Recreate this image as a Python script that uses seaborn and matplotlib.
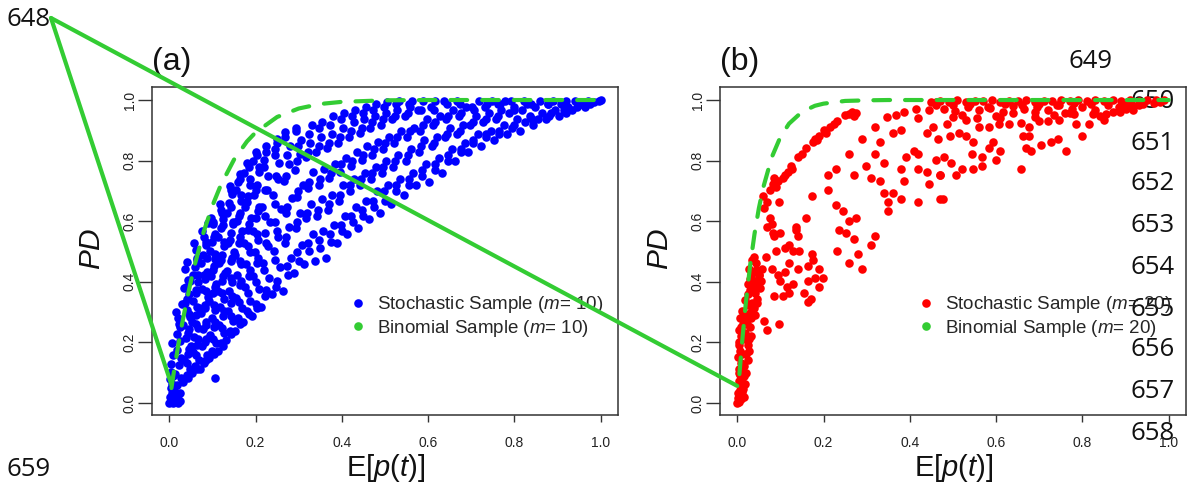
import matplotlib
matplotlib.use("Agg")
import matplotlib.pyplot as plt
import seaborn as sns
import pandas as pd
from matplotlib.lines import Line2D

# ---------------- data ----------------
blue_x = [
 0.000,0.004,0.008,0.012,0.002,0.006,0.010,0.003,0.007,0.011,0.001,0.005,0.009,0.004,0.008,0.006,0.020,0.025,0.015,
 0.015,0.020,0.025,0.018,0.028,0.014,0.022,0.027,0.017,0.024,0.019,0.026,0.021,0.016,0.029,0.023,
 0.032,0.040,0.047,0.035,0.043,0.050,0.038,0.045,0.033,0.048,0.041,0.036,0.046,0.039,0.044,0.037,0.034,0.042,
 0.052,0.060,0.068,0.055,0.064,0.058,0.066,0.053,0.061,0.069,0.056,0.063,0.067,0.054,0.059,0.065,0.062,0.057,
 0.072,0.080,0.088,0.075,0.084,0.078,0.086,0.073,0.082,0.089,0.076,0.083,0.087,0.074,0.079,0.085,0.081,0.077,0.090,
 0.092,0.100,0.108,0.095,0.104,0.098,0.106,0.093,0.102,0.109,0.096,0.103,0.107,0.094,0.099,0.105,0.101,0.097,0.107,
 0.112,0.120,0.128,0.115,0.124,0.118,0.126,0.113,0.122,0.129,0.116,0.123,0.127,0.114,0.119,0.125,0.121,0.117,
 0.132,0.140,0.148,0.135,0.144,0.138,0.146,0.133,0.142,0.149,0.136,0.143,0.147,0.134,0.139,0.145,0.141,
 0.152,0.160,0.168,0.155,0.164,0.158,0.166,0.153,0.162,0.169,0.156,0.163,0.167,0.154,0.159,0.165,
 0.172,0.180,0.188,0.175,0.184,0.178,0.186,0.173,0.182,0.189,0.176,0.183,0.187,0.174,0.181,
 0.192,0.200,0.208,0.195,0.204,0.198,0.206,0.193,0.202,0.209,0.196,0.203,0.207,0.194,0.201,
 0.213,0.225,0.232,0.218,0.228,0.221,0.234,0.216,0.227,0.230,0.219,0.224,
 0.238,0.250,0.257,0.243,0.253,0.246,0.259,0.241,0.252,0.255,0.244,0.249,
 0.263,0.275,0.282,0.268,0.278,0.271,0.284,0.266,0.277,0.280,0.269,
 0.288,0.300,0.307,0.293,0.303,0.296,0.309,0.291,0.302,0.305,0.294,
 0.313,0.325,0.332,0.318,0.328,0.321,0.334,0.316,0.327,0.330,
 0.338,0.350,0.357,0.343,0.353,0.346,0.359,0.341,0.352,0.355,
 0.363,0.375,0.382,0.368,0.378,0.371,0.384,0.366,0.377,0.380,
 0.388,0.400,0.407,0.393,0.403,0.396,0.409,0.391,0.402,0.405,
 0.413,0.425,0.432,0.418,0.428,0.421,0.434,0.416,0.427,0.430,
 0.438,0.450,0.457,0.443,0.453,0.446,0.459,0.441,0.452,0.455,
 0.463,0.475,0.482,0.468,0.478,0.471,0.484,0.466,0.477,0.480,
 0.488,0.500,0.507,0.493,0.503,0.496,0.509,0.491,0.502,0.505,
 0.513,0.525,0.535,0.518,0.530,0.521,0.538,0.516,0.527,0.533,
 0.543,0.555,0.565,0.548,0.560,0.551,0.568,0.546,0.557,0.563,
 0.573,0.585,0.595,0.578,0.590,0.581,0.598,0.576,0.587,
 0.603,0.615,0.625,0.608,0.620,0.611,0.628,0.606,0.617,
 0.633,0.645,0.655,0.638,0.650,0.641,0.658,0.636,
 0.663,0.675,0.685,0.668,0.680,0.671,0.688,0.666,
 0.693,0.705,0.715,0.698,0.710,0.701,0.718,
 0.723,0.735,0.745,0.728,0.740,0.731,0.748,
 0.753,0.765,0.775,0.758,0.770,0.761,0.778,
 0.783,0.795,0.805,0.788,0.800,0.791,
 0.813,0.825,0.835,0.818,0.830,0.821,
 0.843,0.855,0.865,0.848,0.860,
 0.873,0.885,0.895,0.878,0.890,
 0.903,0.915,0.925,0.908,0.920,
 0.933,0.945,0.955,0.940,
 0.963,0.975,0.985,0.995,1.000,0.970,
 # second pass (fill between the first ones)
 0.044,0.041,0.046,0.043,0.045,0.042,0.047,
 0.064,0.062,0.066,0.063,0.065,0.061,0.067,0.064,
 0.084,0.082,0.086,0.083,0.085,0.081,0.087,0.084,
 0.104,0.102,0.106,0.103,0.105,0.101,0.107,0.104,0.102,
 0.124,0.122,0.126,0.123,0.125,0.121,0.127,0.124,0.122,
 0.144,0.142,0.146,0.143,0.145,0.141,0.147,0.144,0.142,
 0.164,0.162,0.166,0.163,0.165,0.161,0.167,0.164,
 0.184,0.182,0.186,0.183,0.185,0.181,0.187,0.184,
 0.204,0.202,0.206,0.203,0.205,0.201,0.207,0.204,
 0.222,0.220,0.224,0.221,0.223,0.219,0.225,
 0.247,0.245,0.249,0.246,0.248,0.244,0.250,
 0.272,0.270,0.274,0.271,0.273,0.269,
 0.297,0.295,0.299,0.296,0.298,0.294,
 0.322,0.320,0.324,0.321,0.323,
 0.347,0.345,0.349,0.346,0.348,
 0.372,0.370,0.374,0.371,0.373,
 0.397,0.395,0.399,0.396,0.398,
 0.422,0.420,0.424,0.421,0.423,
 0.447,0.445,0.449,0.446,0.448,
 0.472,0.470,0.474,0.471,0.473,
 0.497,0.495,0.499,0.496,0.498,
 0.525,0.523,0.527,0.524,0.526,
 0.555,0.553,0.557,0.554,0.556,
 0.585,0.583,0.587,0.584,
 0.615,0.613,0.617,0.614,
 0.645,0.643,0.647,0.644,
 0.675,0.673,0.677,0.674,
 0.705,0.703,0.707,
 0.735,0.733,0.737,
 0.765,0.763,0.767,
 0.800,0.798,
 0.840,0.838,
 0.880,0.878,
 0.920,0.918,
 0.960,
]
blue_y = [
 0.000,0.002,0.000,0.006,0.020,0.032,0.018,0.050,0.062,0.044,0.080,0.101,0.088,0.130,0.158,0.197,0.000,0.006,0.012,
 0.004,0.014,0.031,0.058,0.083,0.097,0.124,0.148,0.176,0.205,0.228,0.252,0.279,0.301,0.327,0.262,
 0.068,0.092,0.112,0.141,0.163,0.187,0.213,0.244,0.257,0.283,0.306,0.331,0.358,0.384,0.405,0.441,0.379,0.466,
 0.098,0.121,0.143,0.168,0.192,0.218,0.246,0.266,0.291,0.313,0.338,0.372,0.398,0.421,0.449,0.478,0.506,0.527,
 0.112,0.133,0.158,0.187,0.212,0.243,0.268,0.296,0.322,0.351,0.377,0.408,0.432,0.462,0.488,0.521,0.548,0.566,0.594,
 0.148,0.171,0.198,0.224,0.252,0.279,0.308,0.338,0.362,0.391,0.418,0.452,0.476,0.503,0.531,0.558,0.589,0.612,0.081,
 0.172,0.198,0.231,0.258,0.287,0.318,0.342,0.371,0.402,0.428,0.461,0.488,0.517,0.548,0.577,0.606,0.638,0.657,
 0.208,0.238,0.272,0.302,0.331,0.368,0.398,0.437,0.468,0.497,0.528,0.561,0.598,0.628,0.661,0.689,0.716,
 0.238,0.281,0.312,0.347,0.388,0.421,0.458,0.487,0.528,0.566,0.602,0.628,0.668,0.702,0.728,0.756,
 0.268,0.302,0.338,0.381,0.418,0.458,0.497,0.528,0.571,0.612,0.648,0.682,0.718,0.758,0.792,
 0.288,0.328,0.377,0.418,0.462,0.497,0.538,0.568,0.611,0.648,0.688,0.718,0.762,0.798,0.828,
 0.318,0.372,0.412,0.461,0.518,0.562,0.598,0.648,0.702,0.748,0.802,0.848,
 0.358,0.402,0.448,0.502,0.548,0.598,0.641,0.688,0.738,0.792,0.838,0.872,
 0.368,0.421,0.478,0.528,0.581,0.628,0.678,0.732,0.788,0.848,0.896,
 0.428,0.468,0.521,0.578,0.628,0.681,0.718,0.768,0.821,0.868,0.908,
 0.458,0.502,0.558,0.612,0.658,0.708,0.762,0.812,0.858,0.918,
 0.468,0.512,0.568,0.618,0.672,0.718,0.772,0.828,0.878,0.928,
 0.478,0.532,0.588,0.638,0.688,0.742,0.788,0.842,0.888,0.948,
 0.528,0.568,0.618,0.668,0.718,0.762,0.808,0.858,0.908,0.958,
 0.558,0.598,0.648,0.698,0.738,0.782,0.828,0.878,0.928,0.968,
 0.578,0.618,0.668,0.718,0.758,0.802,0.848,0.892,0.938,0.978,
 0.608,0.648,0.698,0.738,0.778,0.818,0.862,0.908,0.948,0.988,
 0.628,0.668,0.718,0.758,0.798,0.838,0.878,0.918,0.958,0.992,
 0.658,0.698,0.738,0.778,0.818,0.858,0.898,0.938,0.968,0.998,
 0.688,0.718,0.758,0.798,0.838,0.878,0.908,0.948,0.978,0.998,
 0.718,0.748,0.788,0.828,0.868,0.898,0.938,0.968,0.998,
 0.728,0.768,0.808,0.848,0.878,0.918,0.948,0.978,0.998,
 0.758,0.798,0.838,0.878,0.908,0.938,0.968,0.998,
 0.798,0.828,0.858,0.888,0.918,0.948,0.978,0.998,
 0.828,0.858,0.888,0.918,0.948,0.978,0.998,
 0.848,0.878,0.898,0.928,0.958,0.978,0.998,
 0.868,0.888,0.918,0.938,0.968,0.988,0.998,
 0.888,0.908,0.938,0.958,0.978,0.998,
 0.898,0.928,0.948,0.968,0.988,0.998,
 0.918,0.938,0.958,0.978,0.998,
 0.938,0.958,0.968,0.988,0.998,
 0.948,0.968,0.978,0.988,0.998,
 0.968,0.978,0.988,0.998,
 0.978,0.988,0.995,0.998,1.000,0.998,
 # second pass
 0.082,0.131,0.178,0.231,0.292,0.343,0.402,
 0.112,0.158,0.212,0.262,0.318,0.362,0.421,0.472,
 0.142,0.201,0.258,0.312,0.368,0.421,0.478,0.532,
 0.161,0.212,0.268,0.322,0.381,0.438,0.492,0.548,0.598,
 0.188,0.248,0.302,0.362,0.418,0.472,0.532,0.588,0.628,
 0.228,0.288,0.352,0.412,0.478,0.538,0.592,0.648,0.702,
 0.262,0.332,0.402,0.468,0.548,0.618,0.688,0.738,
 0.292,0.362,0.438,0.518,0.592,0.662,0.738,0.778,
 0.312,0.398,0.478,0.558,0.632,0.702,0.778,0.818,
 0.352,0.438,0.528,0.618,0.702,0.778,0.828,
 0.382,0.472,0.568,0.658,0.748,0.818,0.858,
 0.452,0.548,0.648,0.748,0.818,0.878,
 0.498,0.598,0.698,0.798,0.848,0.898,
 0.528,0.628,0.728,0.828,0.888,
 0.538,0.638,0.738,0.848,0.908,
 0.558,0.658,0.758,0.858,0.918,
 0.588,0.688,0.788,0.878,0.938,
 0.618,0.718,0.798,0.898,0.948,
 0.638,0.738,0.818,0.908,0.958,
 0.668,0.758,0.838,0.928,0.968,
 0.698,0.778,0.858,0.938,0.978,
 0.718,0.798,0.878,0.948,0.988,
 0.738,0.818,0.898,0.958,0.988,
 0.768,0.848,0.918,0.968,
 0.788,0.858,0.928,0.968,
 0.818,0.888,0.948,0.988,
 0.838,0.898,0.958,0.988,
 0.868,0.928,0.968,
 0.888,0.938,0.988,
 0.898,0.948,0.988,
 0.918,0.968,
 0.938,0.988,
 0.948,0.988,
 0.958,0.988,
 0.988,
]

red_x = [
 0.000,0.004,0.008,0.002,0.006,0.010,0.003,0.007,0.012,0.005,0.009,0.001,0.006,0.011,0.004,0.008,0.003,0.013,0.007,0.010,0.015,0.018,
 0.016,0.020,0.025,0.018,0.023,0.028,0.021,0.030,0.026,0.033,0.019,0.035,0.029,0.038,0.024,0.040,0.032,0.045,0.036,0.042,0.048,0.027,0.050,0.044,0.055,0.039,0.034,0.058,
 0.062,0.070,0.097,0.080,0.095,0.100,0.110,0.115,0.105,0.130,0.085,0.140,0.120,0.155,0.165,0.175,0.180,0.190,0.170,0.066,0.051,0.035,0.120,
 0.080,0.085,0.100,0.075,0.070,0.135,0.140,0.120,0.130,0.097,0.082,0.136,0.143,0.174,0.163,0.190,0.198,0.163,0.174,0.159,0.110,0.090,
 0.059,0.063,0.070,0.075,0.082,0.090,0.095,0.105,0.110,0.118,0.125,0.128,0.140,0.150,0.160,0.175,0.180,0.185,0.190,0.200,0.205,0.215,0.225,0.230,0.250,0.260,0.265,0.270,0.275,0.085,
 0.210,0.229,0.210,0.229,0.244,0.236,0.260,0.275,0.271,0.232,0.260,0.279,0.290,0.310,0.320,0.271,0.260,0.298,0.340,0.320,
 0.330,0.290,0.320,0.360,0.380,0.310,0.330,0.340,0.360,0.350,
 0.350,0.380,0.387,0.380,0.410,0.420,0.390,0.420,0.420,0.440,
 0.445,0.470,0.470,0.460,0.440,0.465,0.485,0.453,0.420,0.414,
 0.445,0.460,0.348,0.368,0.387,0.252,
 0.477,0.469,0.507,0.520,0.546,0.568,0.496,0.480,0.543,0.600,
 0.658,0.568,0.584,0.610,0.670,0.680,0.705,0.728,0.744,0.762,
 0.800,0.662,0.677,0.592,0.546,0.515,0.530,0.492,0.500,0.561,
 0.584,0.607,0.630,0.657,0.677,0.700,0.720,0.746,0.785,0.816,
 0.780,0.825,0.855,0.886,0.917,
 0.450,0.470,0.490,0.510,0.530,0.550,0.570,0.590,0.610,0.630,0.650,0.670,0.690,0.710,
 0.730,0.750,0.770,0.790,0.810,0.830,0.850,0.870,0.890,0.910,0.930,0.950,0.970,0.990,
 0.480,0.505,0.535,0.560,0.585,0.615,0.640,0.665,0.695,0.720,0.745,0.775,0.800,0.830,0.860,0.885,0.915,0.940,0.965,
 0.520,0.555,0.600,0.640,0.690,0.735,0.760,0.840,0.870,0.900,
 0.002,0.006,0.010,0.014,0.003,0.008,0.012,0.016,0.005,0.009,0.014,0.020,0.024,0.028,0.032,0.022,0.026,0.031,0.036,0.041,0.046,0.052,0.030,0.043,
 0.460,0.500,0.540,0.580,0.620,0.660,0.700,0.740,0.780,0.820,0.860,0.900,0.940,0.980,0.530,0.610,0.690,0.770,0.850,0.930,
]
red_y = [
 0.000,0.003,0.012,0.031,0.042,0.053,0.071,0.092,0.082,0.112,0.131,0.152,0.171,0.162,0.201,0.221,0.242,0.262,0.281,0.302,0.021,0.061,
 0.121,0.162,0.191,0.232,0.261,0.212,0.292,0.251,0.322,0.281,0.341,0.331,0.372,0.312,0.391,0.362,0.412,0.342,0.432,0.402,0.381,0.442,0.421,0.462,0.402,0.482,0.472,0.441,
 0.272,0.242,0.262,0.442,0.422,0.402,0.432,0.382,0.352,0.392,0.352,0.442,0.462,0.362,0.402,0.472,0.412,0.382,0.342,0.482,0.422,0.382,0.362,
 0.592,0.552,0.562,0.612,0.582,0.582,0.552,0.522,0.502,0.662,0.562,0.572,0.502,0.492,0.452,0.442,0.412,0.332,0.682,0.612,0.512,0.502,
 0.682,0.642,0.662,0.702,0.722,0.712,0.732,0.742,0.752,0.762,0.782,0.772,0.812,0.822,0.842,0.862,0.872,0.868,0.882,0.902,0.892,0.912,0.922,0.932,0.952,0.955,0.962,0.948,0.958,0.742,
 0.752,0.772,0.702,0.652,0.632,0.572,0.602,0.612,0.542,0.502,0.462,0.492,0.442,0.522,0.552,0.752,0.822,0.782,0.792,0.822,
 0.862,0.872,0.912,0.892,0.902,0.742,0.732,0.692,0.692,0.662,
 0.632,0.672,0.732,0.772,0.832,0.822,0.812,0.772,0.662,0.762,
 0.722,0.672,0.752,0.802,0.892,0.872,0.922,0.912,0.942,0.972,
 0.966,0.992,0.945,0.952,0.962,0.562,
 0.672,0.752,0.752,0.772,0.772,0.782,0.792,0.812,0.822,0.802,
 0.772,0.812,0.842,0.832,0.842,0.832,0.852,0.862,0.872,0.832,
 0.882,0.882,0.882,0.862,0.862,0.892,0.882,0.882,0.945,0.912,
 0.912,0.922,0.922,0.923,0.912,0.932,0.932,0.933,0.922,0.922,
 0.955,0.955,0.955,0.960,0.966,
 0.992,0.998,0.995,0.999,0.993,0.998,0.996,0.999,0.994,0.998,0.997,0.999,0.995,0.998,
 0.997,0.999,0.996,0.999,0.998,0.999,0.997,0.999,0.998,0.999,0.998,0.999,0.999,1.000,
 0.972,0.965,0.978,0.968,0.975,0.962,0.980,0.970,0.976,0.966,0.982,0.972,0.978,0.968,0.984,0.976,0.982,0.986,0.990,
 0.952,0.940,0.948,0.956,0.944,0.952,0.958,0.948,0.962,0.972,
 0.015,0.025,0.035,0.045,0.100,0.060,0.120,0.090,0.190,0.250,0.210,0.100,0.140,0.170,0.220,0.280,0.360,0.300,0.370,0.290,0.330,0.380,0.410,0.440,
 0.985,0.982,0.988,0.978,0.986,0.984,0.988,0.982,0.990,0.986,0.992,0.988,0.994,0.995,0.935,0.940,0.962,0.958,0.935,0.982,
]

binom_x    = [0.005, 0.01, 0.02, 0.03, 0.04, 0.05, 0.06, 0.08, 0.10, 0.12, 0.15, 0.18, 0.20, 0.25, 0.30, 0.35, 0.40, 0.50, 0.60, 0.70, 0.80, 0.90, 1.00]
binom10_y  = [0.049, 0.096, 0.183, 0.263, 0.335, 0.401, 0.461, 0.566, 0.651, 0.721, 0.803, 0.863, 0.893, 0.944, 0.972, 0.987, 0.994, 0.999, 1.0, 1.0, 1.0, 1.0, 1.0]
binom20_y  = [0.095, 0.182, 0.332, 0.456, 0.558, 0.642, 0.710, 0.811, 0.878, 0.922, 0.961, 0.981, 0.988, 0.997, 0.999, 1.0, 1.0, 1.0, 1.0, 1.0, 1.0, 1.0, 1.0]

ticks = [0.0, 0.2, 0.4, 0.6, 0.8, 1.0]
tick_labels = ["0.0", "0.2", "0.4", "0.6", "0.8", "1.0"]
panel_titles = ["(a)", "(b)"]
legend_a = [r"Stochastic Sample ($m$= 10)", r"Binomial Sample ($m$= 10)"]
legend_b = [r"Stochastic Sample ($m$= 20)", r"Binomial Sample ($m$= 20)"]
line_numbers = ["648", "649", "650", "651", "652", "653", "654", "655", "656", "657", "658", "659"]

assert len(blue_x) == len(blue_y), (len(blue_x), len(blue_y))
assert len(red_x) == len(red_y), (len(red_x), len(red_y))

# ---------------- style ----------------
sns.set_theme(style="white")
plt.rcParams["font.family"] = ["Liberation Sans", "DejaVu Sans"]
plt.rcParams["mathtext.fontset"] = "custom"
plt.rcParams["mathtext.rm"] = "Liberation Sans"
plt.rcParams["mathtext.it"] = "Liberation Sans:italic"

GREEN = "#33cc33"
BLUE = "#0000ff"
RED = "#ff0000"
W, H = 1187, 495

fig = plt.figure(figsize=(W / 100, H / 100), dpi=100)
fig.patch.set_facecolor("white")


def rect(l, t, r, b):
    return [l / W, 1 - b / H, (r - l) / W, (b - t) / H]


axa = fig.add_axes(rect(152, 87, 618, 415))
axb = fig.add_axes(rect(720, 87, 1186, 415))

panels = [
    (axa, blue_x, blue_y, BLUE, binom10_y, legend_a, panel_titles[0]),
    (axb, red_x, red_y, RED, binom20_y, legend_b, panel_titles[1]),
]

for ax, xs, ys, col, by, leg_labels, title in panels:
    ax.set_facecolor("none")
    df = pd.DataFrame({"x": xs, "y": ys})
    sns.scatterplot(data=df, x="x", y="y", color=col, s=38, linewidth=0,
                    ax=ax, legend=False, zorder=2)
    bdf = pd.DataFrame({"x": binom_x, "y": by})
    sns.lineplot(data=bdf, x="x", y="y", ax=ax, color=GREEN, linewidth=3,
                 linestyle=(0, (4.0, 3.6)), dash_capstyle="round", sort=False,
                 zorder=3)
    ax.set_xlim(-0.04, 1.04)
    ax.set_ylim(-0.04, 1.043)
    ax.set_xticks(ticks)
    ax.set_xticklabels(tick_labels)
    ax.set_yticks(ticks)
    ax.set_yticklabels(tick_labels)
    ax.tick_params(axis="x", direction="out", length=5, width=1, pad=10,
                   labelsize=10, colors="#333333", labelcolor="#222222",
                   bottom=True)
    ax.tick_params(axis="y", direction="out", length=10, width=1, pad=1,
                   labelsize=10, colors="#333333", labelcolor="#222222",
                   left=True, labelrotation=90)
    for lab in ax.get_yticklabels():
        lab.set_va("center")
    for sp in ax.spines.values():
        sp.set_visible(True)
        sp.set_color("#333333")
        sp.set_linewidth(1.1)
    ax.set_xlabel(r"E[$p(t)$]", fontsize=21, color="#111111")
    ax.set_ylabel(r"$PD$", fontsize=21.5, color="#111111")
    ax.xaxis.set_label_coords(0.502, -0.162)
    ax.xaxis.label.set_va("center")
    ax.yaxis.set_label_coords(-0.129, 0.506)
    ax.yaxis.label.set_va("center")
    ax.text(0.0, 1.076, title, transform=ax.transAxes, ha="left", va="center",
            fontsize=23, color="#111111")
    handles = [
        Line2D([], [], ls="none", marker="o", ms=6.2, color=col, mew=0),
        Line2D([], [], ls="none", marker="o", ms=6.2, color=GREEN, mew=0),
    ]
    ax.legend(handles, leg_labels, loc="center left", bbox_to_anchor=(0.423, 0.30),
              frameon=False, fontsize=13.5, handlelength=1.0, handletextpad=0.5,
              borderaxespad=0, borderpad=0, labelspacing=0.12)

# ---------------- line numbers (behind the plots) ----------------
num_font = dict(family=["Open Sans", "DejaVu Sans"], fontsize=18.5, color="#111111", zorder=-1)
fig.text(51 / W, 1 - 20 / H, line_numbers[0], ha="right", va="center", **num_font)
fig.text(1068 / W, 1 - 62 / H, line_numbers[1], ha="left", va="center", **num_font)
col_y = [101, 143, 184, 226, 267, 309, 350, 392, 433]
for lab, yy in zip(line_numbers[2:11], col_y):
    fig.text(1130 / W, 1 - yy / H, lab, ha="left", va="center", **num_font)
fig.text(51 / W, 1 - 470 / H, line_numbers[11], ha="right", va="center", **num_font)

# ---------------- green annotation triangle ----------------
inv = fig.transFigure.inverted()
apex = (51 / W, 1 - 18 / H)
pa = inv.transform(axa.transData.transform((0.005, 0.06)))
pb = inv.transform(axb.transData.transform((0.0, 0.056)))
for p in (pa, pb):
    fig.add_artist(Line2D([apex[0], p[0]], [apex[1], p[1]], transform=fig.transFigure,
                          color=GREEN, linewidth=3, solid_capstyle="round", zorder=10))

fig.savefig("out.png", dpi=100, facecolor="white")
